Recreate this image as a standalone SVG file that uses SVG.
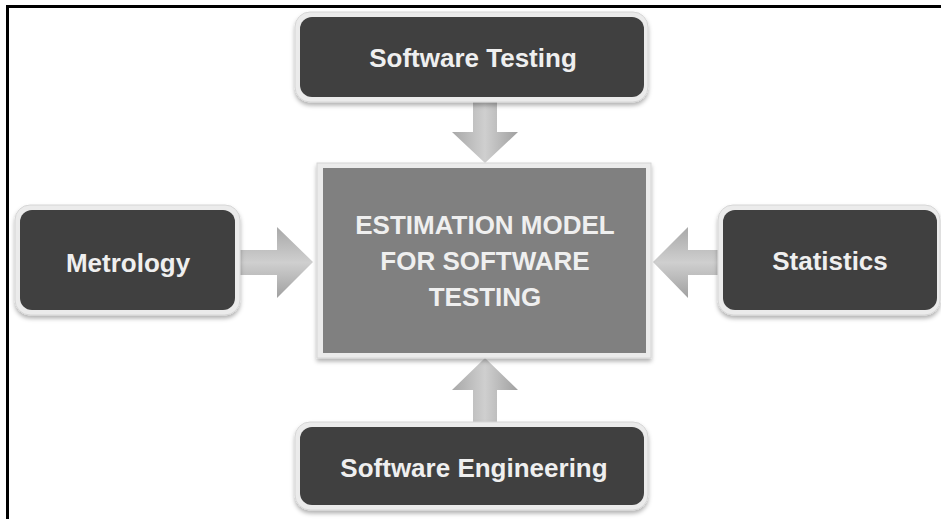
<svg xmlns="http://www.w3.org/2000/svg" width="941" height="519" viewBox="0 0 941 519">
<defs>
<linearGradient id="gv" x1="0" y1="0" x2="1" y2="0"><stop offset="0" stop-color="#a8a8a8"/><stop offset="0.5" stop-color="#cfcfcf"/><stop offset="1" stop-color="#a0a0a0"/></linearGradient>
<linearGradient id="gh" x1="0" y1="0" x2="0" y2="1"><stop offset="0" stop-color="#a8a8a8"/><stop offset="0.5" stop-color="#cfcfcf"/><stop offset="1" stop-color="#a0a0a0"/></linearGradient>
<filter id="sh" x="-10%" y="-10%" width="120%" height="130%"><feDropShadow dx="0" dy="3" stdDeviation="2" flood-color="#000" flood-opacity="0.3"/></filter>
</defs>
<style>
.outer{fill:#ebebeb;stroke:#d6d6d6;stroke-width:1;filter:url(#sh)}
.inner{fill:#404040}
.lbl{font-family:"Liberation Sans",Arial,sans-serif;font-weight:bold;font-size:26px;fill:#efefef;text-anchor:middle}
.arr{stroke:none}
</style>
<rect width="941" height="519" fill="#fff"/>
<path d="M7.5,519 V6.5 H941" fill="none" stroke="#000" stroke-width="3"/>
<g id="connectors">
<path class="arr" fill="url(#gv)" d="M473,101 H497 V132 H518 L485,163 L452,132 H473 Z"/>
<path class="arr" fill="url(#gv)" d="M473,423 H497 V390 H518 L485,358 L452,390 H473 Z"/>
<path class="arr" fill="url(#gh)" d="M239,250 V275 H277 V298 L313,262 L277,227 V250 Z"/>
<path class="arr" fill="url(#gh)" d="M719,250 V275 H688 V298 L653,262 L688,227 V250 Z"/>
</g>
<g id="center">
<rect x="317" y="163" width="334" height="195" fill="#ebebeb" stroke="#d6d6d6" filter="url(#sh)"/>
<rect x="323" y="168" width="323" height="185" fill="#808080"/>
<text class="lbl" x="485" y="234" fill="#e8e8e8">ESTIMATION MODEL</text>
<text class="lbl" x="485" y="270" fill="#e8e8e8">FOR SOFTWARE</text>
<text class="lbl" x="485" y="306" fill="#e8e8e8">TESTING</text>
</g>
<g id="software-testing">
<rect class="outer" x="295" y="12" width="353" height="90" rx="15"/>
<rect class="inner" x="300" y="17" width="344" height="80" rx="12"/>
<text class="lbl" x="473" y="67">Software Testing</text>
</g>
<g id="metrology">
<rect class="outer" x="15" y="205" width="225" height="110" rx="15"/>
<rect class="inner" x="20" y="210" width="215" height="100" rx="12"/>
<text class="lbl" x="128" y="272">Metrology</text>
</g>
<g id="statistics">
<rect class="outer" x="718" y="205" width="222" height="110" rx="15"/>
<rect class="inner" x="723" y="210" width="214" height="100" rx="12"/>
<text class="lbl" x="830" y="270">Statistics</text>
</g>
<g id="software-engineering">
<rect class="outer" x="295" y="422" width="353" height="88" rx="15"/>
<rect class="inner" x="300" y="427" width="344" height="78" rx="12"/>
<text class="lbl" x="474" y="477">Software Engineering</text>
</g>
</svg>
